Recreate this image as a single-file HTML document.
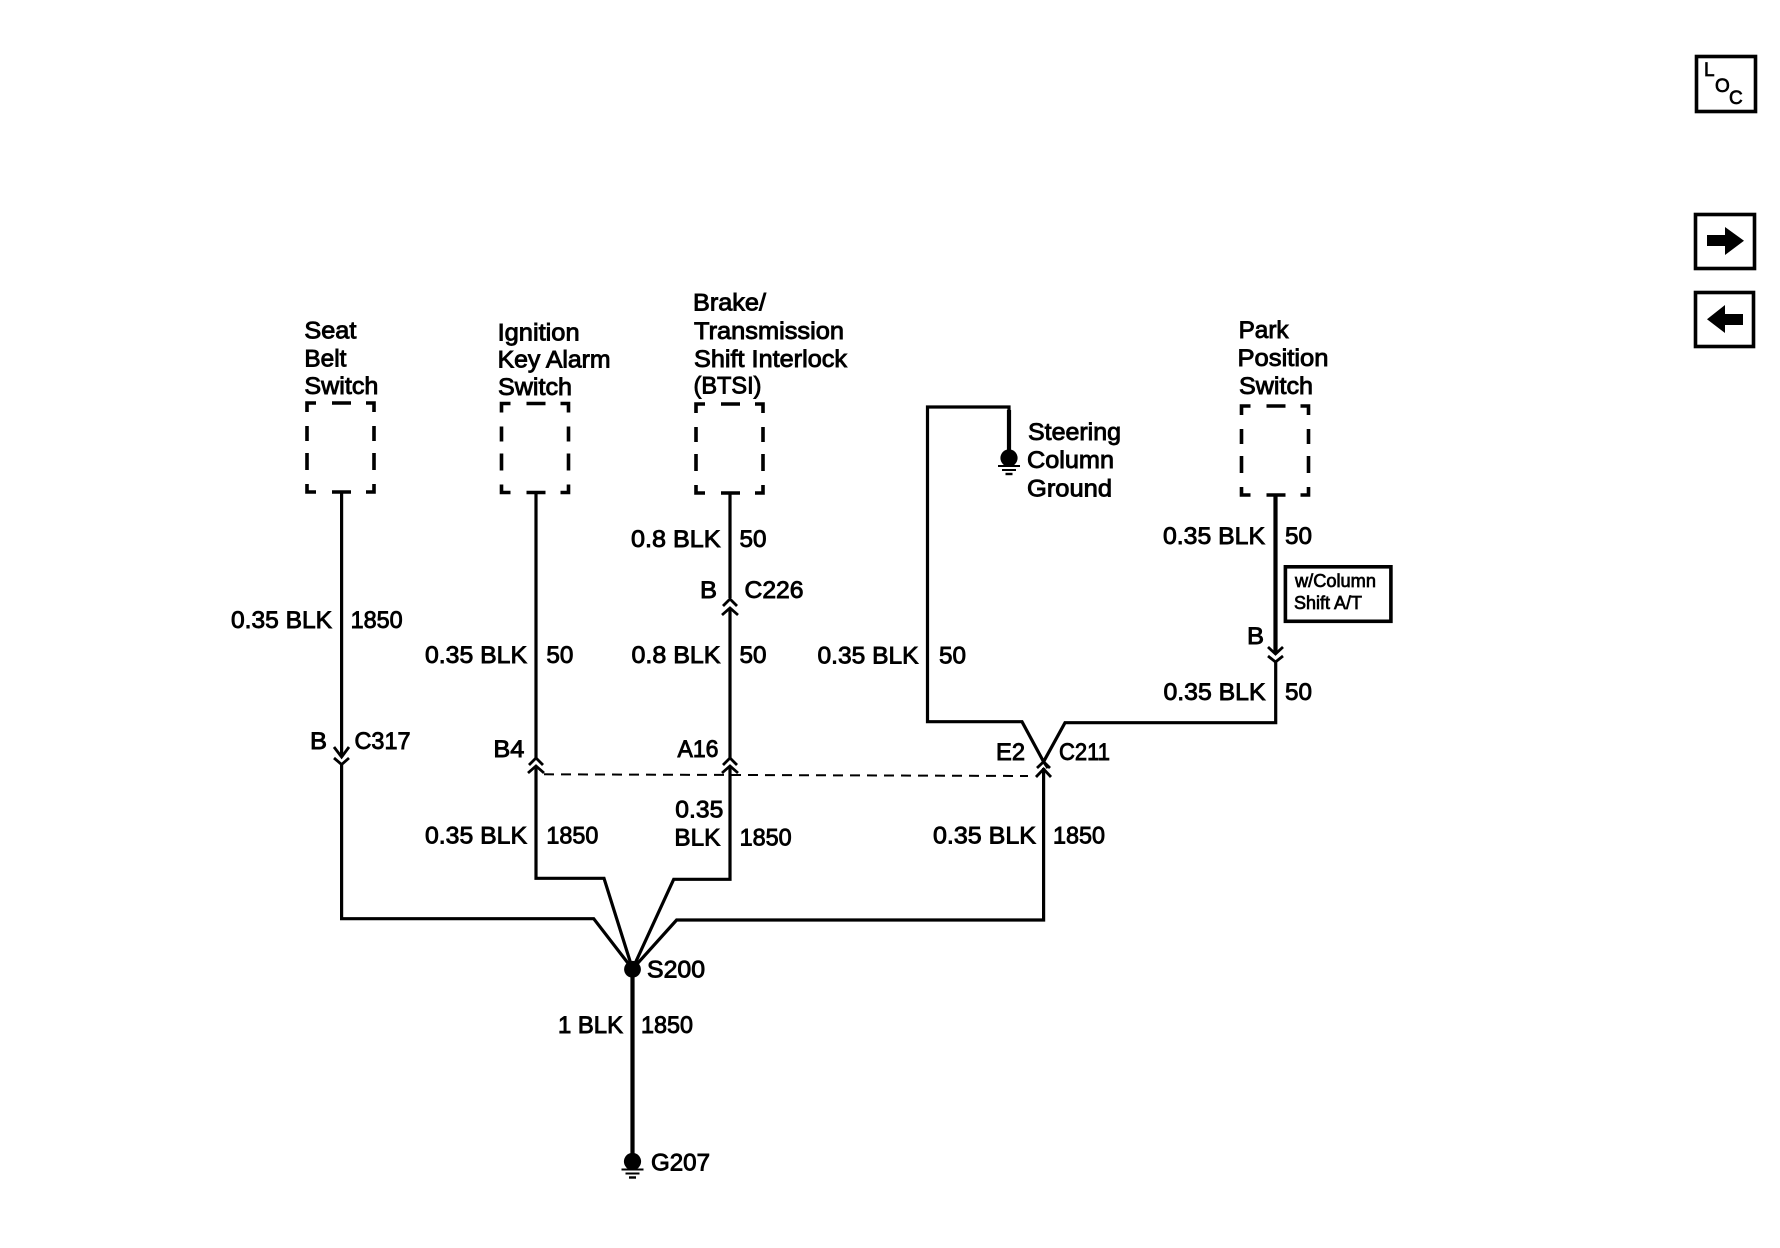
<!DOCTYPE html>
<html><head><meta charset="utf-8"><style>
html,body{margin:0;padding:0;background:#fff}
svg{display:block}
text{font-family:"Liberation Sans",Arial,sans-serif;font-size:24.5px;fill:#000;stroke:#000;stroke-width:.9px}
.s{font-size:18px;stroke-width:.7px}
.l{fill:none;stroke:#000;stroke-linejoin:miter;stroke-width:3.2}
.t{fill:none;stroke:#000;stroke-width:4.2}
.c{fill:none;stroke:#000;stroke-width:2.8}
.d{fill:none;stroke:#000;stroke-width:2}
</style></head><body>
<svg width="1780" height="1248" viewBox="0 0 1780 1248" xmlns="http://www.w3.org/2000/svg">
<defs>
<g id="box" style="fill:none;stroke:#000;stroke-width:3.6">
<path d="M0 9V0H9M25 0H44M59 0H67V9"/>
<path d="M0 23V38M0 50V67M67 23V38M67 50V67"/>
<path d="M0 81V89H9M25 89H44M59 89H67V81"/>
</g>
<g id="gnd" style="fill:none;stroke:#000">
<circle cx="0" cy="0" r="8.6" fill="#000" stroke="none"/>
<path d="M-11 8H11" stroke-width="2"/><path d="M-7 12H7" stroke-width="2"/><path d="M-3.5 16H3.5" stroke-width="2.4"/>
</g>
</defs>
<rect width="1780" height="1248" fill="#fff"/>

<!-- side icons -->
<rect x="1696.5" y="56.5" width="59" height="55" fill="none" stroke="#000" stroke-width="3.6"/>
<text x="1704" y="76" class="s" style="font-size:19px">L</text>
<text x="1715" y="92" class="s" style="font-size:19px">O</text>
<text x="1729" y="104" class="s" style="font-size:19px">C</text>
<rect x="1695.5" y="214.5" width="59" height="54" fill="none" stroke="#000" stroke-width="3.6"/>
<path d="M1707 235H1725V227L1744 240.7L1725 255V246H1707Z" fill="#000"/>
<rect x="1695.5" y="292.5" width="58" height="54" fill="none" stroke="#000" stroke-width="3.6"/>
<path d="M1743 314H1725V305L1707 319.3L1725 333V325H1743Z" fill="#000"/>

<!-- dashed component boxes -->
<use href="#box" x="307" y="403"/>
<use href="#box" x="501.5" y="403.5"/>
<use href="#box" x="696" y="404"/>
<use href="#box" x="1241.5" y="406"/>

<!-- wires -->
<path class="l" d="M341.6 492V757"/>
<path class="l" d="M341.6 764V918.7H593.7L632.5 969"/>
<path class="l" d="M536 492V758"/>
<path class="l" d="M536 766V878.3H604L632.5 969"/>
<path class="l" d="M730 493V598"/>
<path class="l" d="M730 608V758"/>
<path class="l" d="M730 766V879.3H673.7L632.5 969"/>
<path class="l" d="M1043.6 768V920H676.6L632.5 969"/>
<path class="l" d="M1009 458V407H927.5V721.7H1022L1043.6 761.7"/>
<path class="l" d="M1048 768L1043.6 761.7L1065 722.7H1275.7V661"/>
<path class="t" d="M1275.5 495V653"/>
<path class="t" d="M632.5 969V1162"/>
<path class="t" d="M1009 410V452"/>

<!-- connector chevrons -->
<path class="c" d="M334 747L341.6 757L349 747M334 758L341.6 764.5L349 758"/>
<path class="c" d="M529 765L536 758L543 765M528 773L536 766L544 773"/>
<path class="c" d="M723 765L730 758L737 765M722 773L730 766L738 773"/>
<path class="c" d="M723 606L730 599L737 606M722 615L730 608L738 615"/>
<path class="c" d="M1268 647L1275.5 654L1283 647M1268 656L1275.5 662L1283 656"/>
<path class="c" d="M1037 768L1043.6 761.7L1050 768M1036 777L1043.6 769L1051 777"/>

<!-- dashed link -->
<path class="d" stroke-dasharray="10 7" d="M544 774.3L1028 776"/>

<!-- splice and grounds -->
<circle cx="632.5" cy="969.3" r="8.4" fill="#000"/>
<use href="#gnd" x="632.5" y="1161.5"/>
<use href="#gnd" x="1009" y="458"/>

<!-- condition box -->
<rect x="1285.4" y="566.8" width="105.5" height="54.5" fill="none" stroke="#000" stroke-width="3.6"/>
<text class="s" x="1295" y="587" textLength="81" lengthAdjust="spacingAndGlyphs">w/Column</text>
<text class="s" x="1294" y="609" textLength="68" lengthAdjust="spacingAndGlyphs">Shift A/T</text>

<!-- component labels -->
<text x="304.4" y="338.5" textLength="52" lengthAdjust="spacingAndGlyphs">Seat</text>
<text x="304.4" y="366.5" textLength="42" lengthAdjust="spacingAndGlyphs">Belt</text>
<text x="304.4" y="394" textLength="74" lengthAdjust="spacingAndGlyphs">Switch</text>
<text x="497.6" y="340.7" textLength="82" lengthAdjust="spacingAndGlyphs">Ignition</text>
<text x="497.6" y="367.5" textLength="113" lengthAdjust="spacingAndGlyphs">Key Alarm</text>
<text x="498" y="395" textLength="74" lengthAdjust="spacingAndGlyphs">Switch</text>
<text x="693" y="310.7" textLength="73" lengthAdjust="spacingAndGlyphs">Brake/</text>
<text x="694" y="339" textLength="150" lengthAdjust="spacingAndGlyphs">Transmission</text>
<text x="694" y="367" textLength="153" lengthAdjust="spacingAndGlyphs">Shift Interlock</text>
<text x="693.5" y="393.5" textLength="68" lengthAdjust="spacingAndGlyphs">(BTSI)</text>
<text x="1028" y="440" textLength="93" lengthAdjust="spacingAndGlyphs">Steering</text>
<text x="1027" y="468" textLength="87" lengthAdjust="spacingAndGlyphs">Column</text>
<text x="1027" y="496.5" textLength="85" lengthAdjust="spacingAndGlyphs">Ground</text>
<text x="1238.6" y="338" textLength="50" lengthAdjust="spacingAndGlyphs">Park</text>
<text x="1237.5" y="366" textLength="91" lengthAdjust="spacingAndGlyphs">Position</text>
<text x="1239" y="394" textLength="74" lengthAdjust="spacingAndGlyphs">Switch</text>

<!-- wire labels -->
<text x="231" y="628" textLength="101" lengthAdjust="spacingAndGlyphs">0.35 BLK</text>
<text x="350.6" y="628" textLength="52" lengthAdjust="spacingAndGlyphs">1850</text>
<text x="425" y="663" textLength="102" lengthAdjust="spacingAndGlyphs">0.35 BLK</text>
<text x="546.4" y="663" textLength="27" lengthAdjust="spacingAndGlyphs">50</text>
<text x="631" y="547" textLength="89.6" lengthAdjust="spacingAndGlyphs">0.8 BLK</text>
<text x="739.5" y="547" textLength="27" lengthAdjust="spacingAndGlyphs">50</text>
<text x="631.5" y="663" textLength="89" lengthAdjust="spacingAndGlyphs">0.8 BLK</text>
<text x="739.5" y="663" textLength="27" lengthAdjust="spacingAndGlyphs">50</text>
<text x="817.5" y="663.5" textLength="101" lengthAdjust="spacingAndGlyphs">0.35 BLK</text>
<text x="939" y="663.5" textLength="27" lengthAdjust="spacingAndGlyphs">50</text>
<text x="1163" y="544" textLength="102" lengthAdjust="spacingAndGlyphs">0.35 BLK</text>
<text x="1285" y="544" textLength="27" lengthAdjust="spacingAndGlyphs">50</text>
<text x="1163.5" y="700" textLength="102" lengthAdjust="spacingAndGlyphs">0.35 BLK</text>
<text x="1285" y="700" textLength="27" lengthAdjust="spacingAndGlyphs">50</text>
<text x="425" y="843.3" textLength="102" lengthAdjust="spacingAndGlyphs">0.35 BLK</text>
<text x="546.4" y="843.3" textLength="52" lengthAdjust="spacingAndGlyphs">1850</text>
<text x="675.3" y="817.7" textLength="48" lengthAdjust="spacingAndGlyphs">0.35</text>
<text x="674.4" y="845.7" textLength="46" lengthAdjust="spacingAndGlyphs">BLK</text>
<text x="739.6" y="845.7" textLength="52" lengthAdjust="spacingAndGlyphs">1850</text>
<text x="933" y="843.3" textLength="103" lengthAdjust="spacingAndGlyphs">0.35 BLK</text>
<text x="1053" y="843.3" textLength="52" lengthAdjust="spacingAndGlyphs">1850</text>
<text x="558" y="1033" textLength="65" lengthAdjust="spacingAndGlyphs">1 BLK</text>
<text x="641" y="1033" textLength="52" lengthAdjust="spacingAndGlyphs">1850</text>

<!-- connector labels -->
<text x="310" y="749" textLength="17" lengthAdjust="spacingAndGlyphs">B</text>
<text x="354.5" y="749" textLength="56" lengthAdjust="spacingAndGlyphs">C317</text>
<text x="493.4" y="757" textLength="31" lengthAdjust="spacingAndGlyphs">B4</text>
<text x="677.5" y="757" textLength="41" lengthAdjust="spacingAndGlyphs">A16</text>
<text x="700" y="598" textLength="17" lengthAdjust="spacingAndGlyphs">B</text>
<text x="744.5" y="598" textLength="59" lengthAdjust="spacingAndGlyphs">C226</text>
<text x="1247" y="644" textLength="17" lengthAdjust="spacingAndGlyphs">B</text>
<text x="996" y="760" textLength="29" lengthAdjust="spacingAndGlyphs">E2</text>
<text x="1059" y="760" textLength="51" lengthAdjust="spacingAndGlyphs">C211</text>
<text x="647" y="977.7" textLength="58" lengthAdjust="spacingAndGlyphs">S200</text>
<text x="651" y="1170.7" textLength="59" lengthAdjust="spacingAndGlyphs">G207</text>
</svg>
</body></html>
